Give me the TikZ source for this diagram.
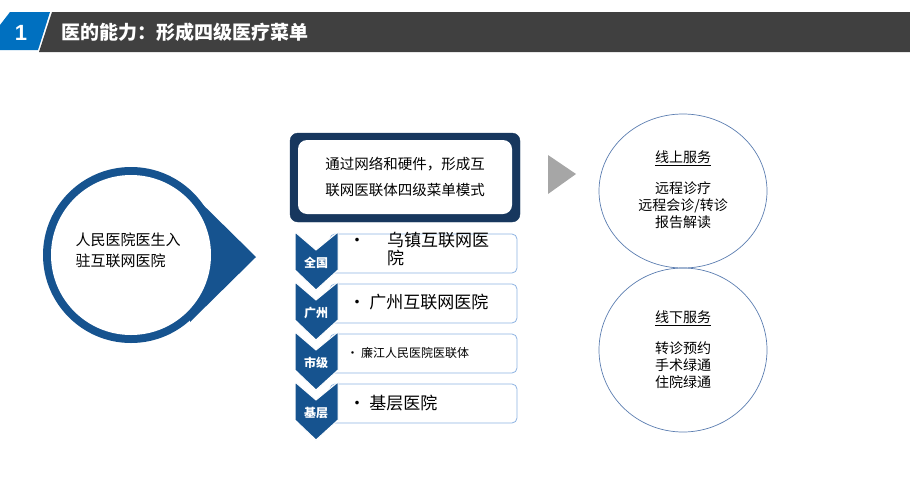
\documentclass[tikz,border=0pt]{standalone}
\usepackage{fontspec}
\newfontfamily\cjk{Noto Sans CJK SC}
\newfontfamily\lsans{Liberation Sans}
\begin{document}
\begin{tikzpicture}[x=1pt,y=-1pt,font=\cjk,
  chev/.style={fill=bluedark,draw=white,line width=1pt},
  lbox/.style={draw=boxblue,rounded corners=5pt,line width=0.8pt,fill=white},
  rcirc/.style={draw=circblue,line width=0.7pt},
  ctxt/.style={align=center,font=\cjk\fontsize{14}{17}\selectfont},
  clab/.style={text=white,font=\cjk\bfseries\fontsize{12}{14}\selectfont},
  btxt/.style={anchor=west,font=\cjk\fontsize{17}{19}\selectfont}]
\definecolor{bluedark}{HTML}{16538F}
\definecolor{boxblue}{HTML}{8DB3E2}
\definecolor{circblue}{HTML}{5B7DB0}
\definecolor{hblue}{HTML}{0070C0}
\definecolor{hgray}{HTML}{404040}
\definecolor{navy}{HTML}{17375E}
\useasboundingbox (0,0) rectangle (910,493);
% header
\fill[hblue] (10,12) -- (50,12) -- (38,50) -- (0,50) -- (0,25) -- cycle;
\fill[hgray] (52,12) -- (910,12) -- (910,52) -- (39,52) -- cycle;
\node[text=white,font=\lsans\bfseries\fontsize{22}{24}\selectfont] (num) at (21,33) {1};
\node[anchor=west,text=white,font=\cjk\bfseries\fontsize{19}{21}\selectfont] (title) at (58,32) {医的能力：形成四级医疗菜单};
% teardrop
\fill[bluedark] (131,255) circle (88);
\fill[bluedark] (190,192) -- (256,257) -- (190,322) -- cycle;
\fill[white] (131,255) circle (80);
\node[align=left,font=\cjk\fontsize{15}{21}\selectfont] (left) at (128,250) {人民医院医生入\\驻互联网医院};
% top box
\draw[navy,fill=navy,rounded corners=8pt] (290,133) rectangle (520,222);
\node[fill=white,rounded corners=9pt,minimum width=214pt,minimum height=74pt,align=center,font=\cjk\fontsize{14.5}{26}\selectfont] (top) at (405,177) {通过网络和硬件，形成互\\联网医联体四级菜单模式};
% grey arrow
\fill[gray!70] (548,155) -- (576,174) -- (548,194) -- cycle;
% rows
\foreach \y/\lab in {232/全国,282/广州,332/市级,382/基层}{
  \draw[lbox] (330,\y+2) rectangle (517,\y+41);
  \fill[chev] (295,\y) -- (316,\y+18) -- (338,\y) -- (338,\y+38) -- (316,\y+58) -- (295,\y+38) -- cycle;
  \node[clab] at (316,\y+31) {\lab};
}
\node[btxt] (b1) at (345,242) {•};
\node[anchor=north west,align=left,font=\cjk\fontsize{17}{18}\selectfont,inner sep=0] (r1) at (387,232) {乌镇互联网医\\院};
\node[btxt] (r2) at (345,302) {•\ 广州互联网医院};
\node[anchor=west,font=\cjk\fontsize{12}{14}\selectfont] (r3) at (343,353) {•\ 廉江人民医院医联体};
\node[btxt] (r4) at (345,403) {•\ 基层医院};
% circles
\draw[rcirc] (683,191) ellipse (84 and 77);
\draw[rcirc] (683,350) ellipse (84 and 82);
\node[ctxt] (c1) at (683,190) {\underline{线上服务}\\[14pt]远程诊疗\\远程会诊/转诊\\报告解读};
\node[ctxt] (c2) at (683,350) {\underline{线下服务}\\[14pt]转诊预约\\手术绿通\\住院绿通};
\end{tikzpicture}
\end{document}
